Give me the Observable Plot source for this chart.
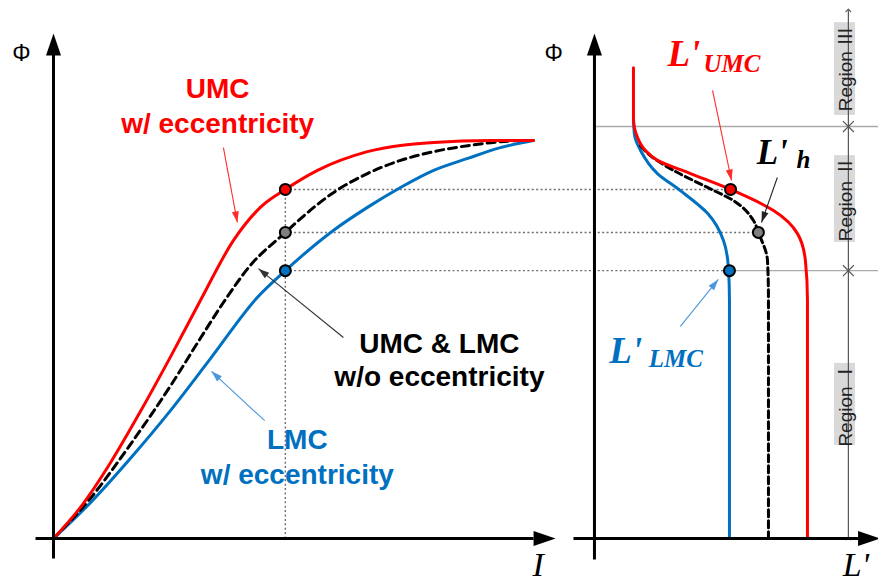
<!DOCTYPE html>
<html>
<head>
<meta charset="utf-8">
<script src="https://cdn.jsdelivr.net/npm/d3@7"></script>
<script src="https://cdn.jsdelivr.net/npm/@observablehq/plot@0.6"></script>
<style>
  html, body { margin: 0; padding: 0; background: #fff; overflow: hidden; }
  #chart { width: 878px; height: 582px; overflow: hidden; }
</style>
</head>
<body>
<div id="chart"></div>
<script>
// ---------------- DATA (normalized: I and L' along x, Φ along y) ----------------
// Left panel: Φ–I characteristic
const umcI   = [0, 0.056, 0.119, 0.181, 0.244, 0.306, 0.375, 0.431, 0.483, 0.550, 0.654, 0.792, 0.910, 1.0];
const umcPhi = [0, 0.078, 0.191, 0.319, 0.457, 0.598, 0.749, 0.832, 0.877, 0.925, 0.972, 0.995, 1.0, 1.0];
const refI   = [0, 0.077, 0.160, 0.244, 0.306, 0.354, 0.410, 0.483, 0.515, 0.583, 0.654, 0.723, 0.792, 0.863, 0.931, 0.973];
const refPhi = [0, 0.101, 0.236, 0.384, 0.503, 0.593, 0.686, 0.769, 0.804, 0.869, 0.917, 0.950, 0.972, 0.987, 0.997, 1.0];
const lmcI   = [0, 0.077, 0.160, 0.244, 0.327, 0.425, 0.483, 0.583, 0.654, 0.723, 0.792, 0.863, 0.931, 1.0];
const lmcPhi = [0, 0.090, 0.201, 0.322, 0.452, 0.606, 0.673, 0.774, 0.832, 0.882, 0.925, 0.955, 0.982, 1.0];

// Right panel: incremental inductance L' vs Φ
const umcL    = [0.1625, 0.1625, 0.179, 0.2125, 0.2625, 0.40, 0.567, 0.746, 0.846, 0.879, 0.8875, 0.8875];
const umcLPhi = [1.183, 1.055, 1.008, 0.975, 0.950, 0.917, 0.877, 0.824, 0.766, 0.698, 0.598, 0];
const refL    = [0.192, 0.233, 0.329, 0.471, 0.579, 0.6625, 0.683, 0.721, 0.725, 0.725];
const refLPhi = [0.987, 0.962, 0.925, 0.882, 0.849, 0.799, 0.769, 0.698, 0.598, 0];
const lmcL    = [0.1625, 0.167, 0.192, 0.2625, 0.358, 0.471, 0.5375, 0.558, 0.5625, 0.5625];
const lmcLPhi = [1.055, 1.013, 0.975, 0.917, 0.874, 0.817, 0.749, 0.681, 0.598, 0];

// Operating point marked on both panels (UMC, w/o eccentricity, LMC)
const opI   = 0.483;
const opPhi = [0.877, 0.769, 0.673];
const opL   = [0.567, 0.683, 0.5625];
const opColors = ["#ff0000", "#808080", "#0070c0"];

// Region boundaries (Φ) and labels
const regionBounds = [1.035, 0.673];
const regionNames  = ["Region Ⅲ", "Region Ⅱ", "Region Ⅰ"];
const regionTop    = [1.296, 0.962, 0.440];
const regionBottom = [1.063, 0.744, 0.234];
const regionL      = 1.058;   // L' position of the region ruler

// ---------------- LAYOUT HELPERS ----------------
const XS = 480, YS = 398;          // px per unit (used for arrow angles)
const LX0 = 1.127, LXS = 0.5;      // right-panel origin / scale in x units
const lx = l => LX0 + l * LXS;

const pts = (xs, ys, f = v => v) => xs.map((v, i) => ({x: f(v), y: ys[i]}));
const head = (len, wid) => ({
  draw(ctx) { ctx.moveTo(0, 0); ctx.lineTo(wid / 2, len); ctx.lineTo(-wid / 2, len); ctx.closePath(); }
});
const ang = (x1, y1, x2, y2) => Math.atan2((x2 - x1) * XS, (y2 - y1) * YS) * 180 / Math.PI;

// axes segments and arrow tips
const axes = [
  {x1: 0, y1: -0.05, x2: 0, y2: 1.22},
  {x1: -0.0375, y1: 0, x2: 1.0, y2: 0},
  {x1: lx(0), y1: -0.053, x2: lx(0), y2: 1.22},
  {x1: lx(-0.0875), y1: 0, x2: lx(1.1), y2: 0}
];
const axisTips = [
  {x: 0, y: 1.269, rot: 0},
  {x: 1.046, y: 0, rot: 90},
  {x: lx(0), y: 1.269, rot: 0},
  {x: lx(1.19), y: 0, rot: 90}
];

// annotation arrows (from -> tip)
const pointers = [
  {x1: 0.354, y1: 0.982, x2: 0.383, y2: 0.794, c: "#ff2a2a"},
  {x1: 0.604, y1: 0.505, x2: 0.427, y2: 0.678, c: "#333333"},
  {x1: 0.440, y1: 0.296, x2: 0.329, y2: 0.420, c: "#4a96dc"},
  {x1: 1.373, y1: 1.126, x2: 1.4125, y2: 0.8995, c: "#ff2a2a"},
  {x1: 1.508, y1: 0.907, x2: 1.475, y2: 0.794, c: "#222222"},
  {x1: 1.306, y1: 0.533, x2: 1.385, y2: 0.651, c: "#4a96dc"}
].map(d => ({...d, rot: ang(d.x1, d.y1, d.x2, d.y2)}));

// text labels
const sansLabels = [
  {x: 0.342, y: 1.106, t: "UMC", c: "#ff0000"},
  {x: 0.342, y: 1.018, t: "w/ eccentricity", c: "#ff0000"},
  {x: 0.804, y: 0.467, t: "UMC & LMC", c: "#000000"},
  {x: 0.804, y: 0.382, t: "w/o eccentricity", c: "#000000"},
  {x: 0.508, y: 0.224, t: "LMC", c: "#0070c0"},
  {x: 0.508, y: 0.136, t: "w/ eccentricity", c: "#0070c0"}
];
const primeLabels = [
  {x: 1.279, y: 1.188, t: "L'", c: "#ff0000", s: 37},
  {x: 1.354, y: 1.171, t: "UMC", c: "#ff0000", s: 25},
  {x: 1.465, y: 0.942, t: "L'", c: "#000000", s: 35},
  {x: 1.548, y: 0.930, t: "h", c: "#000000", s: 25},
  {x: 1.158, y: 0.442, t: "L'", c: "#0070c0", s: 37},
  {x: 1.240, y: 0.432, t: "LMC", c: "#0070c0", s: 25}
];
const axisLabels = [
  {x: 0.998, y: -0.093, t: "I"},
  {x: lx(1.035), y: -0.093, t: "L'"}
];
const phiLabels = [{x: -0.067, y: 1.219}, {x: 1.042, y: 1.219}];

// ---------------- MARKS ----------------
const dotted = {stroke: "#6e6e6e", strokeWidth: 1.4, strokeDasharray: "2,2.4"};
const marks = [];

// guides
marks.push(Plot.link([{x1: opI, y1: 0, x2: opI, y2: opPhi[0]}], {x1: "x1", y1: "y1", x2: "x2", y2: "y2", ...dotted}));
marks.push(Plot.link(opPhi.map((p, i) => ({x1: opI, x2: lx(opL[i]), y: p})), {x1: "x1", x2: "x2", y1: "y", y2: "y", ...dotted}));
marks.push(Plot.link([
  {x1: lx(0.004), x2: lx(1.2), y: regionBounds[0]},
  {x1: lx(opL[2]), x2: lx(1.2), y: regionBounds[1]}
], {x1: "x1", x2: "x2", y1: "y", y2: "y", stroke: "#aaaaaa", strokeWidth: 1.4}));

// region ruler
marks.push(Plot.rect(regionNames.map((n, i) => ({x1: lx(1.0), x2: lx(1.0875), y1: regionBottom[i], y2: regionTop[i]})),
  {x1: "x1", x2: "x2", y1: "y1", y2: "y2", fill: "#d9d9d9"}));
marks.push(Plot.link([{x1: lx(regionL), y1: 0, x2: lx(regionL), y2: 1.327}],
  {x1: "x1", y1: "y1", x2: "x2", y2: "y2", stroke: "#555", strokeWidth: 1.2, markerStart: "arrow", markerEnd: "arrow"}));
marks.push(Plot.dot(regionBounds.map(b => ({x: lx(regionL), y: b})), {x: "x", y: "y", symbol: "times", r: 5, stroke: "#555", strokeWidth: 1.2}));
marks.push(Plot.text(regionNames.map((n, i) => ({x: lx(1.046), y: (regionTop[i] + regionBottom[i]) / 2, t: n})),
  {x: "x", y: "y", text: "t", rotate: -90, fontSize: 19, fill: "#222",
   fontFamily: "Liberation Sans, 'Noto Sans CJK JP', sans-serif", textAnchor: "middle", lineAnchor: "middle"}));

// curves — left
marks.push(Plot.line(pts(lmcI, lmcPhi), {x: "x", y: "y", stroke: "#0070c0", strokeWidth: 3, curve: "monotone-x"}));
marks.push(Plot.line(pts(refI, refPhi), {x: "x", y: "y", stroke: "#000", strokeWidth: 3, strokeDasharray: "8,5", curve: "monotone-x"}));
marks.push(Plot.line(pts(umcI, umcPhi), {x: "x", y: "y", stroke: "#ff0000", strokeWidth: 3, curve: "monotone-x"}));
// curves — right
marks.push(Plot.line(pts(lmcL, lmcLPhi, lx), {x: "x", y: "y", stroke: "#0070c0", strokeWidth: 3, curve: "monotone-y"}));
marks.push(Plot.line(pts(refL, refLPhi, lx), {x: "x", y: "y", stroke: "#000", strokeWidth: 3, strokeDasharray: "7,4", curve: "monotone-y"}));
marks.push(Plot.line(pts(umcL, umcLPhi, lx), {x: "x", y: "y", stroke: "#ff0000", strokeWidth: 3, curve: "monotone-y"}));

// operating points
marks.push(Plot.dot(opPhi.map((p, i) => ({x: opI, y: p, c: opColors[i]})), {x: "x", y: "y", r: 5.5, fill: d => d.c, stroke: "#000", strokeWidth: 2}));
marks.push(Plot.dot(opPhi.map((p, i) => ({x: lx(opL[i]), y: p, c: opColors[i]})), {x: "x", y: "y", r: 5.5, fill: d => d.c, stroke: "#000", strokeWidth: 2}));

// axes
marks.push(Plot.link(axes, {x1: "x1", y1: "y1", x2: "x2", y2: "y2", stroke: "#000", strokeWidth: 3}));
marks.push(Plot.dot(axisTips, {x: "x", y: "y", rotate: "rot", symbol: head(22, 15), fill: "#000", stroke: "none"}));

// annotation pointers
for (const p of pointers) {
  marks.push(Plot.link([p], {x1: "x1", y1: "y1", x2: "x2", y2: "y2", stroke: p.c, strokeWidth: 1.1}));
  marks.push(Plot.dot([p], {x: "x2", y: "y2", rotate: "rot", symbol: head(11, 7), fill: p.c, stroke: "none"}));
}

// labels
for (const l of sansLabels) {
  marks.push(Plot.text([l], {x: "x", y: "y", text: "t", fill: l.c, fontSize: 28, fontWeight: "bold",
    fontFamily: "Liberation Sans, Arial, sans-serif", textAnchor: "middle", lineAnchor: "bottom"}));
}
for (const l of primeLabels) {
  marks.push(Plot.text([l], {x: "x", y: "y", text: "t", fill: l.c, fontSize: l.s, fontWeight: "bold", fontStyle: "italic",
    fontFamily: "Liberation Serif, 'Times New Roman', serif", textAnchor: "start", lineAnchor: "bottom"}));
}
marks.push(Plot.text(axisLabels, {x: "x", y: "y", text: "t", fill: "#000", fontSize: 34, fontStyle: "italic",
  fontFamily: "Liberation Serif, 'Times New Roman', serif", textAnchor: "start", lineAnchor: "bottom"}));
marks.push(Plot.text(phiLabels, {x: "x", y: "y", text: () => "Φ", fill: "#000", fontSize: 23,
  fontFamily: "Liberation Sans, Arial, sans-serif", textAnchor: "middle", lineAnchor: "middle"}));

const chart = Plot.plot({
  width: 878,
  height: 582,
  margin: 0,
  x: {domain: [0, 1], range: [53, 533], axis: null},
  y: {domain: [0, 1], range: [538, 140], axis: null},
  style: {background: "#fff", overflow: "hidden"},
  marks
});
document.getElementById("chart").appendChild(chart);
</script>
</body>
</html>
